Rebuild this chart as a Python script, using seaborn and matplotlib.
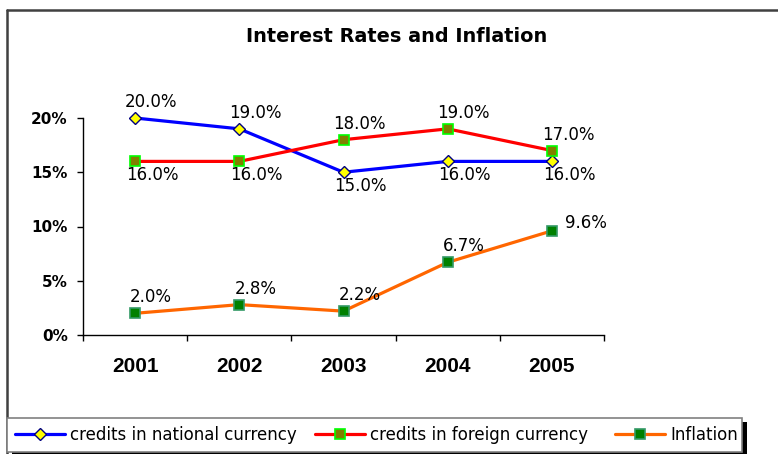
import matplotlib
matplotlib.use("Agg")
import matplotlib.pyplot as plt
from matplotlib.lines import Line2D
from matplotlib.patches import Rectangle
from matplotlib.ticker import FixedLocator, FuncFormatter
import seaborn as sns
import pandas as pd

# Data
years = ["2001", "2002", "2003", "2004", "2005"]
national = [20.0, 19.0, 15.0, 16.0, 16.0]
foreign = [16.0, 16.0, 18.0, 19.0, 17.0]
inflation = [2.0, 2.8, 2.2, 6.7, 9.6]
series_names = ["credits in national currency", "credits in foreign currency", "Inflation"]
y_ticks = [0, 5, 10, 15, 20]

sns.set_theme(style="white")
plt.rcParams["font.family"] = ["DejaVu Sans"]
plt.rcParams["text.color"] = "black"
plt.rcParams["xtick.color"] = "black"
plt.rcParams["ytick.color"] = "black"
plt.rcParams["xtick.labelcolor"] = "black"
plt.rcParams["ytick.labelcolor"] = "black"

fig = plt.figure(figsize=(7.78, 4.54), dpi=100)
ax = fig.add_axes([83 / 778, 1 - 335 / 454, (604 - 83) / 778, (335 - 118) / 454])

x = list(range(len(years)))
df = pd.DataFrame({"x": x * 3,
                   "value": national + foreign + inflation,
                   "series": [series_names[0]] * 5 + [series_names[1]] * 5 + [series_names[2]] * 5})

styles = {
    series_names[0]: dict(color="#0000FF", marker="D", markersize=6.5,
                          markerfacecolor="#FFFF00", markeredgecolor="#000080", markeredgewidth=1.0),
    series_names[1]: dict(color="#FF0000", marker="s", markersize=7,
                          markerfacecolor="#808000", markeredgecolor="#00FF00", markeredgewidth=1.2),
    series_names[2]: dict(color="#FF6600", marker="s", markersize=7,
                          markerfacecolor="#008000", markeredgecolor="#339966", markeredgewidth=1.2),
}

for name in series_names:
    sub = df[df["series"] == name]
    st = styles[name]
    sns.lineplot(data=sub, x="x", y="value", ax=ax, linewidth=2.3, clip_on=False,
                 label=name, zorder=3, **st)

# value labels: placement per point
placement = {
    series_names[0]: ["above", "above", "below", "below", "below"],
    series_names[1]: ["below", "below", "above", "above", "above"],
    series_names[2]: ["above", "above", "above", "above", "right"],
}
series_vals = dict(zip(series_names, [national, foreign, inflation]))
offsets = {"above": (16, 16), "below": (17, -14), "right": (34, 8)}
for name in series_names:
    for xi, v, pos in zip(x, series_vals[name], placement[name]):
        dx, dy = offsets[pos]
        ax.annotate(f"{v:.1f}%", (xi, v), xytext=(dx, dy), textcoords="offset pixels",
                    ha="center", va="center", fontsize=12, color="black",
                    annotation_clip=False, zorder=5)

ax.set_xlim(-0.5, len(years) - 0.5)
ax.set_ylim(0, 20)
ax.set_xlabel("")
ax.set_ylabel("")
ax.legend_.remove()

# Axes spines
for side in ["top", "right"]:
    ax.spines[side].set_visible(False)
for side in ["left", "bottom"]:
    ax.spines[side].set_color("black")
    ax.spines[side].set_linewidth(1.0)

ax.yaxis.set_major_locator(FixedLocator(y_ticks))
ax.yaxis.set_major_formatter(FuncFormatter(lambda v, p: f"{v:.0f}%"))
ax.tick_params(axis="y", which="major", left=True, length=4, width=1, color="black",
               pad=7, labelsize=11)
for lbl in ax.get_yticklabels():
    lbl.set_fontweight("bold")

# category boundaries as major ticks, year names at centers
ax.xaxis.set_major_locator(FixedLocator([i - 0.5 for i in range(len(years) + 1)]))
ax.xaxis.set_major_formatter(FuncFormatter(lambda v, p: ""))
ax.xaxis.set_minor_locator(FixedLocator(x))
ax.xaxis.set_minor_formatter(FuncFormatter(lambda v, p: years[int(round(v))]))
ax.tick_params(axis="x", which="major", bottom=True, length=4, width=1, color="black")
ax.tick_params(axis="x", which="minor", bottom=False, length=0, pad=16, labelsize=15)
for lbl in ax.get_xticklabels(minor=True):
    lbl.set_fontweight("bold")
    lbl.set_family(["Liberation Sans", "DejaVu Sans"])
ax.grid(False)

# Title
fig.text(397 / 778, 1 - 37 / 454, "Interest Rates and Inflation", ha="center", va="center",
         fontsize=13.9, fontweight="bold")

# Outer chart frame (top and left edges)
fig.add_artist(Line2D([7 / 778, 1.0], [1 - 10 / 454, 1 - 10 / 454], transform=fig.transFigure,
                      color="#404040", linewidth=1.8))
fig.add_artist(Line2D([7 / 778, 7 / 778], [0, 1 - 10 / 454], transform=fig.transFigure,
                      color="#404040", linewidth=1.8))

# Legend box with shadow
fig.add_artist(Rectangle((12 / 778, 1 - 457 / 454), (747 - 12) / 778, (457 - 422) / 454,
                         transform=fig.transFigure, facecolor="black", edgecolor="none", zorder=1))
fig.add_artist(Rectangle((7 / 778, 1 - 452 / 454), (742 - 7) / 778, (452 - 418) / 454,
                         transform=fig.transFigure, facecolor="white", edgecolor="#808080",
                         linewidth=1.2, zorder=2))

# one legend entry per column, each anchored at its own start
entry_x = [15, 315, 615]
for name, ex in zip(series_names, entry_x):
    h = Line2D([], [], linewidth=2.3, **styles[name])
    leg = fig.legend([h], [name], loc="center left", frameon=False,
                     bbox_to_anchor=(ex / 778, 1 - 435 / 454), fontsize=12,
                     handlelength=3.0, handletextpad=0.3, borderpad=0, borderaxespad=0)
    leg.set_zorder(3)

fig.savefig("out.png", dpi=100)
